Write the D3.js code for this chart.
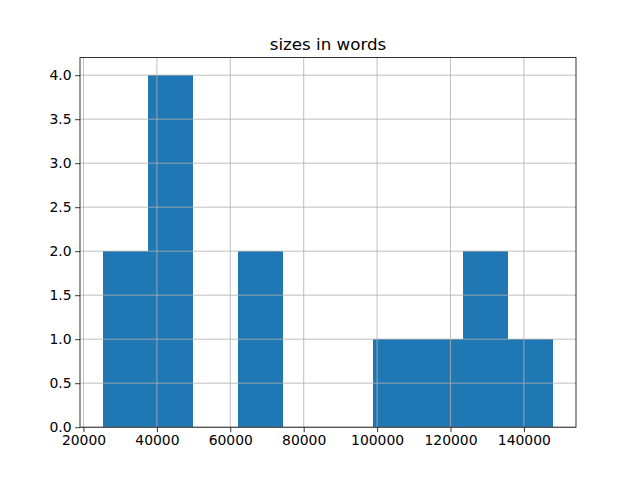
<!DOCTYPE html>
<html>
<head>
<meta charset="utf-8">
<script src="https://cdn.jsdelivr.net/npm/d3@7"></script>
<style>
  body { margin: 0; background: #fff; }
  svg text { font-family: "DejaVu Sans", sans-serif; fill: #000; }
</style>
</head>
<body>
<div id="chart"></div>
<script>
// histogram of word counts, 10 equal bins
const binRange = [25190, 148060]
const counts = [2, 4, 0, 2, 0, 0, 1, 1, 2, 1]
const xTicks = [20000, 40000, 60000, 80000, 100000, 120000, 140000]
const yTicks = [0, 0.5, 1, 1.5, 2, 2.5, 3, 3.5, 4]
const title = 'sizes in words'

const W = 640, H = 480
const m = { left: 80, right: 576, top: 57.6, bottom: 427.2 }

const step = (binRange[1] - binRange[0]) / counts.length
const bins = counts.map((c, i) => ({
    x0: binRange[0] + i * step,
    x1: binRange[0] + (i + 1) * step,
    n: c
}))

const pad = (binRange[1] - binRange[0]) * 0.05
const x = d3.scaleLinear()
    .domain([binRange[0] - pad, binRange[1] + pad])
    .range([m.left, m.right])
const y = d3.scaleLinear()
    .domain([0, d3.max(counts) * 1.05])
    .range([m.bottom, m.top])

const svg = d3.select('#chart').append('svg')
    .attr('width', W)
    .attr('height', H)

svg.append('g').selectAll('rect')
    .data(bins.filter(d => d.n > 0))
    .enter()
    .append('rect')
    .attr('x', d => x(d.x0))
    .attr('width', d => x(d.x1) - x(d.x0))
    .attr('y', d => y(d.n))
    .attr('height', d => y(0) - y(d.n))
    .attr('fill', '#1f77b4')
    .attr('shape-rendering', 'crispEdges')

// grid sits on top of the bars
const grid = svg.append('g')
    .attr('stroke', '#b0b0b0')
    .attr('stroke-width', 0.8)
grid.selectAll('line.gx')
    .data(xTicks)
    .enter()
    .append('line')
    .attr('x1', d => x(d)).attr('x2', d => x(d))
    .attr('y1', m.top).attr('y2', m.bottom)
grid.selectAll('line.gy')
    .data(yTicks)
    .enter()
    .append('line')
    .attr('x1', m.left).attr('x2', m.right)
    .attr('y1', d => y(d)).attr('y2', d => y(d))

const xAxis = svg.append('g')
    .attr('transform', `translate(0,${m.bottom})`)
    .call(d3.axisBottom(x).tickValues(xTicks).tickFormat(d3.format('d')).tickSizeOuter(0).tickSize(4.9).tickPadding(3.5))
const yAxis = svg.append('g')
    .attr('transform', `translate(${m.left},0)`)
    .call(d3.axisLeft(y).tickValues(yTicks).tickFormat(d3.format('.1f')).tickSizeOuter(0).tickSize(4.9).tickPadding(3.5))

;[xAxis, yAxis].forEach(a => {
    a.select('.domain').remove()
    a.selectAll('line').attr('stroke', '#000').attr('stroke-width', 0.8)
    a.selectAll('text').attr('font-size', '13.9px').attr('font-family', 'DejaVu Sans').attr('fill', '#000')
})

// frame
svg.append('rect')
    .attr('x', m.left).attr('y', m.top)
    .attr('width', m.right - m.left).attr('height', m.bottom - m.top)
    .attr('fill', 'none')
    .attr('stroke', '#000')
    .attr('stroke-width', 0.8)

svg.append('text')
    .attr('x', (m.left + m.right) / 2)
    .attr('y', m.top - 8)
    .attr('text-anchor', 'middle')
    .attr('font-size', '16.7px')
    .text(title)
</script>
</body>
</html>
